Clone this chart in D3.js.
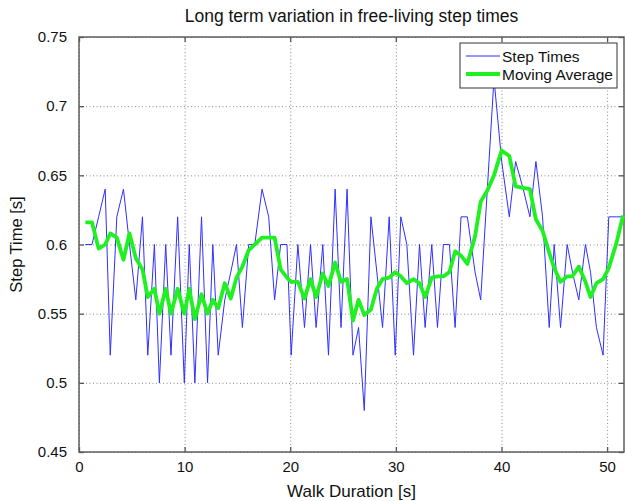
<!DOCTYPE html>
<html>
<head>
<meta charset="utf-8">
<script src="https://cdn.jsdelivr.net/npm/d3@7"></script>
<style>
    body { margin: 0; background: #fff; }
    svg { font-family: "Liberation Sans", Arial, sans-serif; }
    .grid line { stroke: #8a8a8a; stroke-width: 1; stroke-dasharray: 1,2.5; }
    .grid path { display: none; }
    .axis path { display: none; }
    .axis line { stroke: #555; stroke-width: 1.3; }
    .axis text { fill: #111; font-size: 15px; }
</style>
</head>
<body>
<div id="chart"></div>
<script>
//Datos
const times = [0.60, 1.23, 1.86, 2.48, 2.96, 3.58, 4.21, 4.78, 5.38, 6.01,
    6.51, 7.14, 7.61, 8.21, 8.71, 9.34, 9.97, 10.44, 10.97, 11.60,
    12.17, 12.67, 13.18, 13.80, 14.37, 14.91, 15.47, 16.07, 16.64, 17.33,
    17.96, 18.52, 19.09, 19.69, 20.09, 20.72, 21.35, 21.92, 22.45, 23.08,
    23.62, 24.25, 24.81, 25.38, 25.94, 26.47, 27.01, 27.64, 28.20, 28.74,
    29.37, 29.94, 30.47, 31.04, 31.67, 32.24, 32.77, 33.40, 33.94, 34.50,
    35.07, 35.61, 36.17, 36.77, 37.50, 38.03, 38.66, 39.29, 40.02, 40.74,
    41.34, 42.06, 42.69, 43.26, 43.89, 44.52, 44.99, 45.59, 46.22, 46.72,
    47.32, 47.95, 48.43, 48.99, 49.62, 50.16, 50.88, 51.51];

const stepTimes = [0.60, 0.60, 0.62, 0.64, 0.52, 0.62, 0.64, 0.60, 0.56, 0.62,
    0.52, 0.60, 0.50, 0.60, 0.52, 0.62, 0.50, 0.60, 0.50, 0.62,
    0.50, 0.60, 0.52, 0.56, 0.58, 0.60, 0.54, 0.60, 0.60, 0.64,
    0.62, 0.56, 0.60, 0.60, 0.52, 0.60, 0.54, 0.60, 0.54, 0.60,
    0.52, 0.64, 0.54, 0.64, 0.52, 0.54, 0.48, 0.62, 0.58, 0.54,
    0.62, 0.52, 0.62, 0.60, 0.52, 0.60, 0.54, 0.60, 0.54, 0.60,
    0.60, 0.54, 0.62, 0.62, 0.58, 0.56, 0.64, 0.72, 0.66, 0.62,
    0.66, 0.64, 0.62, 0.66, 0.62, 0.54, 0.60, 0.54, 0.60, 0.58,
    0.56, 0.60, 0.58, 0.54, 0.52, 0.62, 0.62, 0.62];

const movingAverage = [0.616, 0.616, 0.597, 0.600, 0.608, 0.605, 0.589, 0.608, 0.590, 0.582,
    0.562, 0.568, 0.550, 0.568, 0.550, 0.568, 0.550, 0.568, 0.546, 0.564,
    0.550, 0.560, 0.554, 0.572, 0.561, 0.576, 0.584, 0.596, 0.600, 0.605,
    0.605, 0.605, 0.582, 0.576, 0.573, 0.573, 0.561, 0.575, 0.562, 0.579,
    0.570, 0.587, 0.573, 0.575, 0.545, 0.560, 0.549, 0.553, 0.568, 0.575,
    0.576, 0.580, 0.577, 0.572, 0.575, 0.572, 0.562, 0.576, 0.577, 0.577,
    0.580, 0.595, 0.592, 0.586, 0.606, 0.631, 0.639, 0.650, 0.668, 0.664,
    0.642, 0.641, 0.640, 0.618, 0.610, 0.594, 0.583, 0.573, 0.577, 0.577,
    0.584, 0.573, 0.562, 0.572, 0.575, 0.583, 0.601, 0.621];

const xTicks = [0, 10, 20, 30, 40, 50];
const yTicks = [0.45, 0.5, 0.55, 0.6, 0.65, 0.7, 0.75];
const legendLabels = ['Step Times', 'Moving Average'];

//Colores
const COLOR_STEP = '#2f2fff',
COLOR_AVG = '#1ff01f';

let margin = {top: 37, right: 1, bottom: 49, left: 79},
    width = 625 - margin.left - margin.right,
    height = 501 - margin.top - margin.bottom;

let svg = d3.select('#chart')
    .append('svg')
        .attr('width', 625)
        .attr('height', 501)
    .append('g')
        .attr('transform', 'translate(' + margin.left + ',' + margin.top + ')');

let x = d3.scaleLinear()
    .domain([0, 51.6])
    .range([0, width]);

let y = d3.scaleLinear()
    .domain([0.45, 0.75])
    .range([height, 0]);

//Rejilla punteada
svg.append('g')
    .attr('class', 'grid')
    .attr('transform', 'translate(0,' + height + ')')
    .call(d3.axisBottom(x).tickValues(xTicks).tickSize(-height).tickFormat(''));

svg.append('g')
    .attr('class', 'grid')
    .call(d3.axisLeft(y).tickValues(yTicks).tickSize(-width).tickFormat(''));

//Ejes con marcas hacia dentro
svg.append('g')
    .attr('class', 'axis')
    .attr('transform', 'translate(0,' + height + ')')
    .call(d3.axisBottom(x).tickValues(xTicks).tickSizeInner(-5).tickPadding(9).tickFormat(d3.format('d')));

svg.append('g')
    .attr('class', 'axis')
    .call(d3.axisTop(x).tickValues(xTicks).tickSizeInner(-5).tickFormat(''));

svg.append('g')
    .attr('class', 'axis')
    .call(d3.axisLeft(y).tickValues(yTicks).tickSizeInner(-5).tickPadding(12).tickFormat(function(d) { return d3.format('.2~f')(d); }));

svg.append('g')
    .attr('class', 'axis')
    .attr('transform', 'translate(' + width + ',0)')
    .call(d3.axisRight(y).tickValues(yTicks).tickSizeInner(-5).tickFormat(''));

//Marco
svg.append('rect')
    .attr('x', 0)
    .attr('y', 0)
    .attr('width', width)
    .attr('height', height)
    .attr('fill', 'none')
    .attr('stroke', '#5e5e5e')
    .attr('stroke-width', 1.5);

//Series
let lineStep = d3.line()
    .x(function(d, i) { return x(times[i]); })
    .y(function(d) { return y(d); });

svg.append('path')
    .datum(stepTimes)
    .attr('fill', 'none')
    .attr('stroke', COLOR_STEP)
    .attr('stroke-width', 1)
    .attr('d', lineStep);

svg.append('path')
    .datum(movingAverage)
    .attr('fill', 'none')
    .attr('stroke', COLOR_AVG)
    .attr('stroke-width', 3.8)
    .attr('stroke-linejoin', 'round')
    .attr('d', lineStep);

//Leyenda
let legend = svg.append('g')
    .attr('transform', 'translate(' + (width - 164) + ',6)');

legend.append('rect')
    .attr('width', 157)
    .attr('height', 45)
    .attr('fill', '#fff')
    .attr('stroke', '#333')
    .attr('stroke-width', 1);

legendLabels.forEach(function(label, i) {
    legend.append('line')
        .attr('x1', 6)
        .attr('x2', 40)
        .attr('y1', 13 + i * 18)
        .attr('y2', 13 + i * 18)
        .attr('stroke', i == 0 ? COLOR_STEP : COLOR_AVG)
        .attr('stroke-width', i == 0 ? 1 : 3.8);
    legend.append('text')
        .attr('x', 42)
        .attr('y', 19 + i * 18)
        .attr('font-size', '15.5px')
        .attr('fill', '#111')
        .text(label);
});

//Títulos
svg.append('text')
    .attr('x', width / 2)
    .attr('y', -15)
    .attr('text-anchor', 'middle')
    .attr('font-size', '17.5px')
    .attr('fill', '#111')
    .text('Long term variation in free-living step times');

svg.append('text')
    .attr('x', width / 2)
    .attr('y', height + 45)
    .attr('text-anchor', 'middle')
    .attr('font-size', '17px')
    .attr('fill', '#111')
    .text('Walk Duration [s]');

svg.append('text')
    .attr('transform', 'translate(' + (-57) + ',' + (height / 2) + ') rotate(-90)')
    .attr('text-anchor', 'middle')
    .attr('font-size', '16.5px')
    .attr('fill', '#111')
    .text('Step Time [s]');
</script>
</body>
</html>
